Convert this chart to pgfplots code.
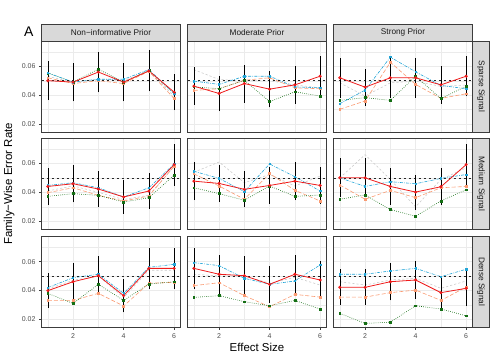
\documentclass[border=0pt]{standalone}
\usepackage{fontspec}
\setmainfont{Liberation Sans}
\usepackage{pgfplots}
\usepackage{pgfplotstable}
\pgfplotsset{compat=1.18}
\usetikzlibrary{calc}

\definecolor{redc}{RGB}{238,28,28}
\definecolor{tealc}{RGB}{35,165,215}
\definecolor{orangec}{RGB}{250,155,115}
\definecolor{greenc}{RGB}{20,110,20}
\definecolor{grayc}{RGB}{200,200,200}
\definecolor{gridc}{RGB}{235,235,235}
\definecolor{bordc}{RGB}{60,60,60}
\definecolor{stripc}{RGB}{217,217,217}
\definecolor{ticktxt}{RGB}{77,77,77}
\definecolor{striptxt}{RGB}{26,26,26}

% columns: x, red (with error half-width), teal, orange, green, gray
\pgfplotstableread{
x red err teal orange green gray
1 0.0500 0.0135 0.0554 0.0520 0.0554 0.0530
2 0.0490 0.0134 0.0490 0.0480 0.0490 0.0490
3 0.0560 0.0142 0.0510 0.0500 0.0580 0.0510
4 0.0490 0.0134 0.0510 0.0480 0.0490 0.0500
5 0.0568 0.0143 0.0577 0.0565 0.0570 0.0570
6 0.0420 0.0124 0.0410 0.0375 0.0410 0.0390
}\sparseNon
\pgfplotstableread{
x red err teal orange green gray
1 0.0462 0.0130 0.0497 0.0432 0.0457 0.0577
2 0.0411 0.0123 0.0474 0.0444 0.0444 0.0508
3 0.0480 0.0132 0.0531 0.0503 0.0503 0.0500
4 0.0441 0.0127 0.0531 0.0520 0.0354 0.0500
5 0.0471 0.0131 0.0457 0.0450 0.0423 0.0470
6 0.0531 0.0139 0.0450 0.0444 0.0393 0.0450
}\sparseMod
\pgfplotstableread{
x red err teal orange green gray
1 0.0520 0.0138 0.0340 0.0301 0.0363 0.0485
2 0.0455 0.0129 0.0434 0.0359 0.0382 0.0393
3 0.0520 0.0138 0.0664 0.0628 0.0363 0.0485
4 0.0520 0.0138 0.0561 0.0474 0.0531 0.0497
5 0.0471 0.0131 0.0467 0.0377 0.0375 0.0460
6 0.0531 0.0139 0.0444 0.0409 0.0462 0.0470
}\sparseStr
\pgfplotstableread{
x red err teal orange green gray
1 0.0441 0.0127 0.0448 0.0398 0.0372 0.0410
2 0.0460 0.0130 0.0467 0.0432 0.0391 0.0445
3 0.0423 0.0125 0.0432 0.0379 0.0379 0.0400
4 0.0368 0.0117 0.0368 0.0340 0.0333 0.0350
5 0.0409 0.0123 0.0432 0.0375 0.0363 0.0380
6 0.0593 0.0146 0.0598 0.0582 0.0520 0.0580
}\mediumNon
\pgfplotstableread{
x red err teal orange green gray
1 0.0478 0.0132 0.0547 0.0529 0.0432 0.0540
2 0.0462 0.0130 0.0497 0.0444 0.0391 0.0611
3 0.0421 0.0125 0.0405 0.0352 0.0345 0.0467
4 0.0448 0.0128 0.0598 0.0531 0.0444 0.0524
5 0.0478 0.0132 0.0508 0.0414 0.0372 0.0444
6 0.0448 0.0128 0.0409 0.0340 0.0382 0.0513
}\mediumMod
\pgfplotstableread{
x red err teal orange green gray
1 0.0501 0.0135 0.0501 0.0451 0.0352 0.0500
2 0.0501 0.0135 0.0441 0.0352 0.0382 0.0662
3 0.0441 0.0127 0.0474 0.0414 0.0280 0.0490
4 0.0402 0.0122 0.0460 0.0363 0.0234 0.0299
5 0.0439 0.0127 0.0497 0.0432 0.0340 0.0490
6 0.0593 0.0146 0.0524 0.0441 0.0418 0.0570
}\mediumStr
\pgfplotstableread{
x red err teal orange green gray
1 0.0398 0.0121 0.0419 0.0330 0.0379 0.0410
2 0.0460 0.0130 0.0488 0.0330 0.0309 0.0470
3 0.0502 0.0135 0.0512 0.0379 0.0442 0.0500
4 0.0363 0.0116 0.0379 0.0291 0.0330 0.0350
5 0.0553 0.0142 0.0560 0.0449 0.0444 0.0540
6 0.0553 0.0142 0.0581 0.0456 0.0460 0.0540
}\denseNon
\pgfplotstableread{
x red err teal orange green gray
1 0.0553 0.0142 0.0593 0.0433 0.0351 0.0512
2 0.0512 0.0137 0.0572 0.0453 0.0363 0.0500
3 0.0502 0.0135 0.0484 0.0363 0.0321 0.0500
4 0.0442 0.0127 0.0442 0.0286 0.0293 0.0450
5 0.0512 0.0137 0.0465 0.0372 0.0330 0.0490
6 0.0472 0.0131 0.0577 0.0353 0.0270 0.0437
}\denseMod
\pgfplotstableread{
x red err teal orange green gray
1 0.0421 0.0125 0.0512 0.0353 0.0240 0.0460
2 0.0421 0.0125 0.0512 0.0353 0.0170 0.0437
3 0.0460 0.0130 0.0535 0.0384 0.0179 0.0472
4 0.0472 0.0131 0.0553 0.0402 0.0293 0.0484
5 0.0384 0.0119 0.0495 0.0330 0.0270 0.0414
6 0.0414 0.0123 0.0547 0.0423 0.0223 0.0465
}\denseStr

\pgfplotsset{
  panel/.style={
    scale only axis, width=139bp, height=91bp, anchor=south west,
    xmin=0.75, xmax=6.25, ymin=0.0143, ymax=0.0776,
    xtick={2,4,6}, minor xtick={1,3,5},
    ytick={0.02,0.04,0.06}, minor ytick={0.03,0.05,0.07},
    grid=both,
    major grid style={draw=gridc, line width=0.6bp},
    minor grid style={draw=gridc, line width=0.3bp},
    axis line style={draw=bordc, line width=0.7bp},
    tick pos=left,
    tick align=outside, major tick length=2.6bp, minor tick length=0pt,
    tick style={draw=bordc, line width=0.5bp},
    /pgf/number format/assume math mode=true,
    ticklabel style={font=\fontsize{7}{8}\selectfont, text=ticktxt},
    scaled y ticks=false,
    yticklabel style={/pgf/number format/fixed, /pgf/number format/precision=2,
      /pgf/number format/fixed zerofill},
  },
  noxlab/.style={xticklabels={}, xtick style={draw=none}},
  noylab/.style={yticklabels={}, ytick style={draw=none}},
}

\newcommand{\panel}[4]{%
\begin{axis}[panel, at={(#2bp,#3bp)}, #4]
\addplot[grayc, line width=0.55bp, dash pattern=on 2.2bp off 2bp] table[x=x,y=gray]{#1};
\addplot[orangec, line width=0.6bp, dash pattern=on 4bp off 2bp, mark=square*, mark size=0.9bp, mark options={solid}] table[x=x,y=orange]{#1};
\addplot[greenc, line width=0.6bp, dash pattern=on 0.7bp off 1.4bp, mark=square*, mark size=0.9bp, mark options={solid}] table[x=x,y=green]{#1};
\addplot[tealc, line width=0.6bp, dash pattern=on 3bp off 1.2bp on 0.8bp off 1.2bp, mark=square*, mark size=0.7bp, mark options={solid}] table[x=x,y=teal]{#1};
\addplot[black!85, line width=0.5bp, dash pattern=on 2.5bp off 2.5bp] coordinates {(0.75,0.05) (6.25,0.05)};
% intervals: from red-err upwards by 2*err
\addplot[black, line width=0.55bp, mark=none, quiver={u=0, v=2*\thisrow{err}}]
  table[x=x, y expr=\thisrow{red}-\thisrow{err}]{#1};
\addplot[redc, line width=0.8bp, mark=*, mark size=1.1bp, mark options={draw=redc, fill=redc}] table[x=x,y=red]{#1};
\end{axis}}

\newcommand{\topstrip}[2]{%
\draw[fill=stripc, draw=bordc, line width=0.7bp] (#1bp,319bp) rectangle ++(139bp,17bp);
\node[font=\fontsize{8.3}{10}\selectfont, text=striptxt] at ($(#1bp,327.5bp)+(69.5bp,0)$) {#2};}
\newcommand{\sidestrip}[2]{%
\draw[fill=stripc, draw=bordc, line width=0.7bp] (472.5bp,#1bp) rectangle ++(17bp,91bp);
\node[font=\fontsize{8.3}{10}\selectfont, text=striptxt, rotate=-90] at ($(481bp,#1bp)+(0,45.5bp)$) {#2};}

\begin{document}
\begin{tikzpicture}
\useasboundingbox (0,0) rectangle (495bp,360bp);
\panel{\sparseNon}{41.5}{228}{noxlab}
\panel{\sparseMod}{187.5}{228}{noxlab,noylab}
\panel{\sparseStr}{333.5}{228}{noxlab,noylab}
\panel{\mediumNon}{41.5}{130.7}{noxlab}
\panel{\mediumMod}{187.5}{130.7}{noxlab,noylab}
\panel{\mediumStr}{333.5}{130.7}{noxlab,noylab}
\panel{\denseNon}{41.5}{32.7}{}
\panel{\denseMod}{187.5}{32.7}{noylab}
\panel{\denseStr}{333.5}{32.7}{noylab}
\topstrip{41.5}{Non−informative Prior}
\topstrip{187.5}{Moderate Prior}
\topstrip{333.5}{Strong Prior}
\sidestrip{228}{Sparse Signal}
\sidestrip{130.7}{Medium Signal}
\sidestrip{32.7}{Dense Signal}
\node[font=\fontsize{14}{16}\selectfont, anchor=base west, inner sep=0pt] at (24bp,323.3bp) {A};
\node[font=\fontsize{11.5}{13}\selectfont, anchor=base, rotate=90, inner sep=0pt] at (12bp,176bp) {Family−Wise Error Rate};
\node[font=\fontsize{11.5}{13}\selectfont, anchor=base, inner sep=0pt] at (257bp,8.3bp) {Effect Size};
\end{tikzpicture}
\end{document}
